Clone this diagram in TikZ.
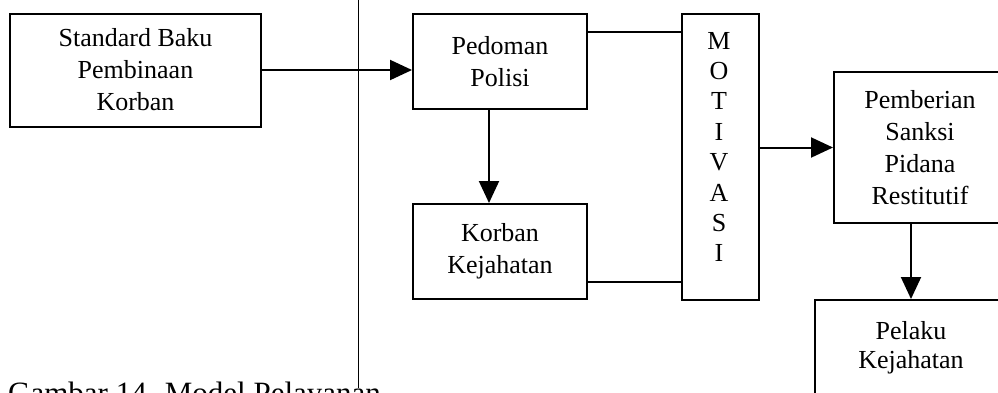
\documentclass[tikz,border=0pt]{standalone}
\usepackage{fontspec}
\setmainfont{Liberation Serif}
\usetikzlibrary{arrows.meta}
\begin{document}
\begin{tikzpicture}[x=1pt,y=-1pt,
  txt/.style={font=\fontsize{26}{32}\selectfont},
  box/.style={draw, line width=2pt, inner sep=0pt, align=center, txt},
  link/.style={line width=2pt},
  flow/.style={line width=2pt, -{Triangle[length=22pt,width=20pt]}}]
\useasboundingbox (0,0) rectangle (998,392);
\clip (0,0) rectangle (998,392);

% thin page rule
\coordinate (r1) at (358,0);
\coordinate (r2) at (358,388);
\draw[line width=0.9pt] (r1) -- (r2);

% boxes
\node[box, minimum width=251pt, minimum height=113pt] (std) at (135.5,70)
  {Standard Baku\\Pembinaan\\Korban};
\node[box, minimum width=174pt, minimum height=95pt] (ped) at (500,61.5)
  {Pedoman\\Polisi};
\node[box, minimum width=174pt, minimum height=95pt] (kor) at (500,251.5)
  {Korban\\Kejahatan};
\node[box, minimum width=77pt, minimum height=286pt] (mot) at (720.5,157) {};
\node[txt, align=center, inner sep=0pt, font=\fontsize{26}{30.4}\selectfont] (motl) at (719,147)
  {M\\O\\T\\I\\V\\A\\S\\I};
\node[box, minimum width=172pt, minimum height=151pt] (pem) at (920,147.5)
  {Pemberian\\Sanksi\\Pidana\\Restitutif};
\node[box, minimum width=192pt, minimum height=96pt, anchor=north,
  font=\fontsize{26}{29}\selectfont] (pel) at (911,299)
  {Pelaku\\Kejahatan};

% connectors
\draw[flow] (std.east) -- (ped.west |- std.east);
\draw[flow] ([xshift=-11pt]ped.south) -- ([xshift=-11pt]kor.north);
\draw[link] ([yshift=-19pt]ped.north east) -- ([yshift=-19pt]mot.north west);
\coordinate (k1) at ([yshift=18pt]kor.south east);
\draw[link] (k1) -- (k1 -| mot.west);
\draw[flow] (mot.east |- pem.west) -- (pem.west);
\draw[flow] (pel.north |- pem.south) -- (pel.north);

% caption
\node[anchor=base west, inner sep=0pt, font=\fontsize{31}{37}\selectfont] (cap) at (8,403)
  {Gambar 14. Model Pelayanan};
\end{tikzpicture}
\end{document}
